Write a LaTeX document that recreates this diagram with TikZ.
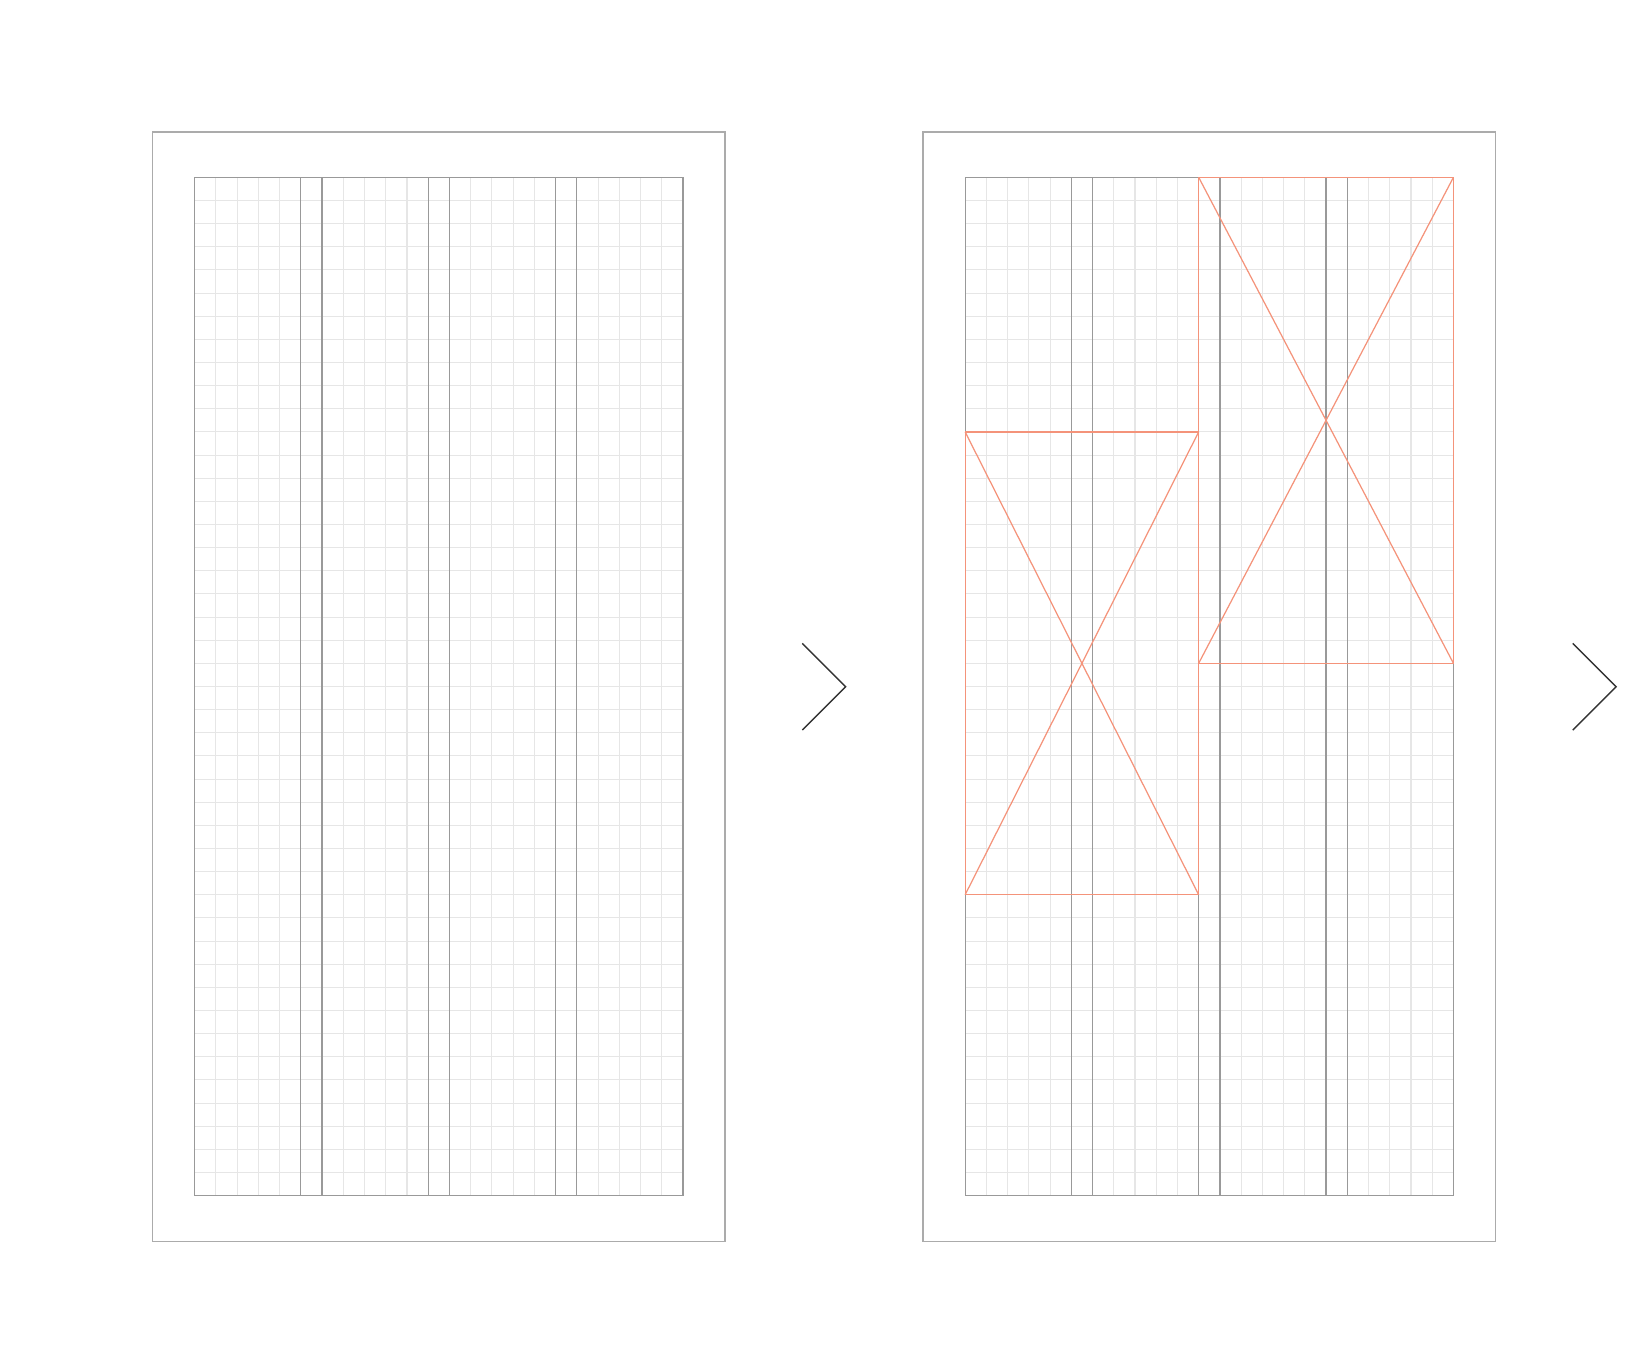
\documentclass[tikz,border=0pt]{standalone}
\usetikzlibrary{calc}
\definecolor{gridgray}{HTML}{E6E6E6}
\definecolor{colgray}{HTML}{999999}
\definecolor{framegray}{HTML}{ABABAB}
\definecolor{salmon}{HTML}{F4937A}
\tikzstyle{frame}=[draw=framegray,line width=0.4pt]
\tikzstyle{gridline}=[draw=gridgray,line width=0.3pt]
\tikzstyle{gutter}=[draw=colgray,line width=0.35pt]
\tikzstyle{imagebox}=[draw=salmon,line width=0.35pt]
\tikzstyle{chevron}=[draw=black!80,line width=0.4pt]

\begin{document}
\begin{tikzpicture}[x=0.01cm,y=-0.01cm]
    \useasboundingbox (0,0) rectangle (1648,1350);
    % Two identical pages, each with a 4 column grid
    \foreach \page/\dx in {left/0, right/7.7}
    {
      \begin{scope}[xshift=\dx cm]
        \draw[frame] (152.7,132) rectangle (725,1241.3);
        % the chevron to the right of the page
        \coordinate (\page-top) at (802.3,643.3);
        \coordinate (\page-tip) at (845.7,686.7);
        \coordinate (\page-bot) at (802.3,730);
        \draw[chevron] (\page-top) -- (\page-tip) -- (\page-bot);
        % inner area in grid cells: 23 wide, 44 high
        \begin{scope}[shift={(194.7,177.3)},x=0.21217cm,y=-0.2313cm]
          \foreach \i in {1,...,22}
            \draw[gridline] (\i,0) -- (\i,44);
          \foreach \j in {1,...,43}
            \draw[gridline] (0,\j) -- (23,\j);
          \foreach \i in {5,6,11,12,17,18}
            \draw[gutter] (\i,0) -- (\i,44);
          \draw[gutter] (0,0) rectangle (23,44);
        \end{scope}
      \end{scope}
    }
    % Placeholder images on the second page
    \begin{scope}[xshift=7.7cm,shift={(194.7,177.3)},x=0.21217cm,y=-0.2313cm]
      \coordinate (a-nw) at (0,11);
      \coordinate (a-ne) at (11,11);
      \coordinate (a-sw) at (0,31);
      \coordinate (a-se) at (11,31);
      \coordinate (b-nw) at (11,0);
      \coordinate (b-ne) at (23,0);
      \coordinate (b-sw) at (11,21);
      \coordinate (b-se) at (23,21);
      \foreach \img in {a,b}
      {
        \draw[imagebox] (\img-nw) rectangle (\img-se);
        \draw[imagebox] (\img-nw) -- (\img-se);
        \draw[imagebox] (\img-ne) -- (\img-sw);
      }
    \end{scope}
\end{tikzpicture}
\end{document}
